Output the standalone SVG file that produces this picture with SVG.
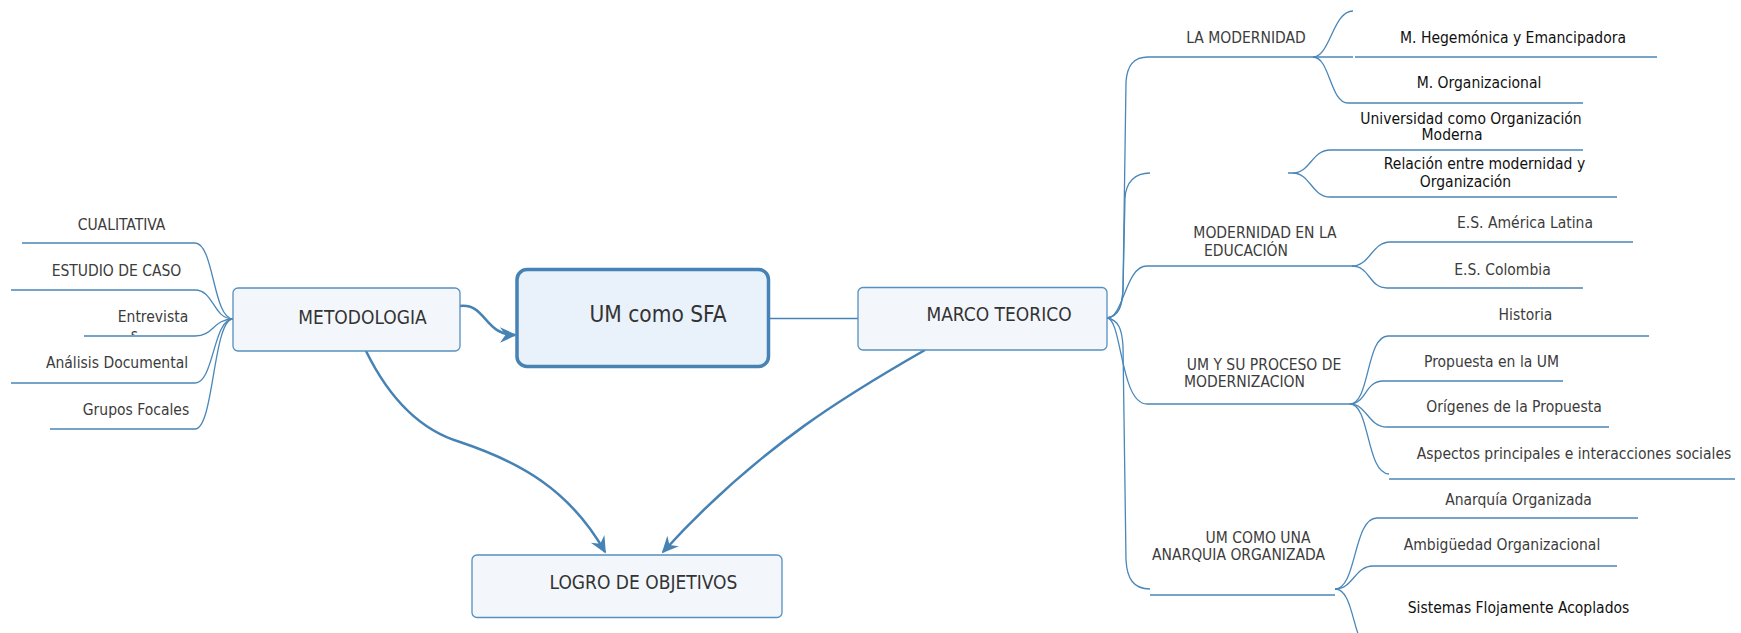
<svg xmlns="http://www.w3.org/2000/svg" width="1741" height="633" viewBox="0 0 1741 633">
<style>
text{font-family:"DejaVu Sans Condensed","DejaVu Sans",sans-serif;font-stretch:condensed;text-anchor:middle}
.main{font-size:19px;fill:#333}
.center{font-size:22.5px;fill:#333}
.ch{font-size:15.5px;fill:#3c3c3c}
.dk{font-size:15.5px;fill:#111}
.box{fill:#f3f7fc;stroke:#5590bf;stroke-width:1.3}
.cbox{fill:#e9f1fb;stroke:#4682b4;stroke-width:3.5}
.br{fill:none;stroke:#4a87b8;stroke-width:1.3}
.rel{fill:none;stroke:#4682b4;stroke-width:2.5}
</style>
<defs>
<marker id="arr" markerUnits="userSpaceOnUse" markerWidth="24" markerHeight="24" viewBox="-18 -10 20 20" refX="-1.5" refY="0" orient="auto">
<path d="M0,0 L-14,-6.5 L-9.5,0 L-14,6.5 Z" fill="#4682b4"/>
</marker>
<clipPath id="clipS"><rect x="100" y="320" width="100" height="15"/></clipPath>
</defs>

<g id="connectors">
<path class="rel" d="M460,306 C486,303 484,335 515,335" marker-end="url(#arr)"/>
<line x1="769" y1="318.5" x2="858" y2="318.5" stroke="#4682b4" stroke-width="1.6"/>
<path class="rel" d="M366,351 C390,400 420,430 460,442 C520,462 570,490 605,552" marker-end="url(#arr)"/>
<path class="rel" d="M925,350 C855,390 760,445 663,552" marker-end="url(#arr)"/>

<!-- left branches -->
<path class="br" d="M22,243 L195,243 C214,243 213,319 233,319"/>
<path class="br" d="M11,290 L195,290 C214,290 213,319 233,319"/>
<path class="br" d="M84,336 L195,336 C214,336 213,319 233,319"/>
<path class="br" d="M11,383 L195,383 C214,383 213,319 233,319"/>
<path class="br" d="M50,429 L195,429 C214,429 213,319 233,319"/>

<!-- right trunk -->
<path class="br" d="M1107,318 C1119,316 1122,306 1123,290 L1126,82 C1127,66 1133,57 1148,57 L1313,57"/>
<path class="br" d="M1107,318 C1119,316 1122,306 1123,290 L1125,198 C1126,182 1135,173 1150,173"/>
<path class="br" d="M1107,318 C1124,318 1125,266 1147,266 L1352,266"/>
<path class="br" d="M1107,318 C1122,318 1120,404 1147,404 L1350,404"/>
<path class="br" d="M1107,318 C1119,320 1122,330 1123,346 L1126,560 C1127,578 1133,589 1150,589"/>
<path class="br" d="M1150,595 L1335,595"/>

<!-- LA MODERNIDAD children -->
<path class="br" d="M1313,57 C1330,57 1333,11 1353,11"/>
<path class="br" d="M1313,57 L1353,57"/>
<path class="br" d="M1313,57 C1330,57 1330,103 1348,103 L1583,103"/>
<path class="br" d="M1355,57 L1657,57"/>

<!-- blank branch children -->
<path class="br" d="M1288,173 L1293,173 C1310,173 1312,150 1330,150 L1583,150"/>
<path class="br" d="M1293,173 C1310,173 1312,197 1330,197 L1617,197"/>

<!-- MODERNIDAD EN LA EDUCACION children -->
<path class="br" d="M1352,266 C1370,266 1372,242 1390,242 L1633,242"/>
<path class="br" d="M1352,266 C1370,266 1369,288 1387,288 L1583,288"/>

<!-- UM Y SU PROCESO children -->
<path class="br" d="M1350,404 C1370,404 1366,336 1388,336 L1649,336"/>
<path class="br" d="M1350,404 C1366,404 1365,381 1383,381 L1563,381"/>
<path class="br" d="M1350,404 C1367,404 1368,427 1387,427 L1609,427"/>
<path class="br" d="M1350,404 C1370,404 1366,473 1389,474"/>
<path class="br" d="M1389,479 L1735,479"/>

<!-- UM COMO UNA children -->
<path class="br" d="M1335,589 C1357,589 1353,518 1377,518 L1638,518"/>
<path class="br" d="M1335,589 C1353,589 1355,566 1373,566 L1617,566"/>
<path class="br" d="M1335,589 C1355,589 1352,645 1370,650"/>
</g>

<g id="node-um-sfa">
<rect class="cbox" x="517" y="269.5" width="251.5" height="97" rx="10"/>
<text class="center" x="658" y="322">UM como SFA</text>
</g>
<g id="node-metodologia">
<rect class="box" x="233" y="288" width="227" height="63" rx="5"/>
<text class="main" x="362.5" y="324">METODOLOGIA</text>
</g>
<g id="node-marco">
<rect class="box" x="858" y="287.5" width="249" height="62.5" rx="5"/>
<text class="main" x="999" y="321">MARCO TEORICO</text>
</g>
<g id="node-logro">
<rect class="box" x="472" y="555" width="310" height="62.5" rx="5"/>
<text class="main" x="643.5" y="589">LOGRO DE OBJETIVOS</text>
</g>

<g id="node-cualitativa"><text class="ch" x="121.5" y="230">CUALITATIVA</text></g>
<g id="node-estudio"><text class="ch" x="116.5" y="276">ESTUDIO DE CASO</text></g>
<g id="node-entrevistas"><text class="ch" x="153" y="322">Entrevista</text><text class="ch" x="134.5" y="340" clip-path="url(#clipS)">s</text></g>
<g id="node-analisis"><text class="ch" x="117" y="368">Análisis Documental</text></g>
<g id="node-grupos"><text class="ch" x="136" y="415">Grupos Focales</text></g>

<g id="node-la-modernidad"><text class="ch" x="1246" y="43">LA MODERNIDAD</text></g>
<g id="node-hegemonica"><text class="dk" x="1513" y="43">M. Hegemónica y Emancipadora</text></g>
<g id="node-m-org"><text class="dk" x="1479" y="88">M. Organizacional</text></g>
<g id="node-universidad"><text class="dk" x="1471" y="124">Universidad como Organización</text><text class="dk" x="1452" y="140">Moderna</text></g>
<g id="node-relacion"><text class="dk" x="1484.5" y="169">Relación entre modernidad y</text><text class="dk" x="1465.5" y="187">Organización</text></g>

<g id="node-mod-educacion"><text class="ch" x="1265" y="238">MODERNIDAD EN LA</text><text class="ch" x="1246" y="256">EDUCACIÓN</text></g>
<g id="node-es-al"><text class="ch" x="1525" y="228">E.S. América Latina</text></g>
<g id="node-es-col"><text class="ch" x="1502.5" y="275">E.S. Colombia</text></g>

<g id="node-um-proceso"><text class="ch" x="1264" y="370">UM Y SU PROCESO DE</text><text class="ch" x="1244.5" y="387">MODERNIZACION</text></g>
<g id="node-historia"><text class="ch" x="1525.5" y="320">Historia</text></g>
<g id="node-propuesta"><text class="ch" x="1491.5" y="367">Propuesta en la UM</text></g>
<g id="node-origenes"><text class="ch" x="1514" y="412">Orígenes de la Propuesta</text></g>
<g id="node-aspectos"><text class="ch" x="1574" y="459">Aspectos principales e interacciones sociales</text></g>

<g id="node-anarquia"><text class="ch" x="1258" y="543">UM COMO UNA</text><text class="ch" x="1238.5" y="560">ANARQUIA ORGANIZADA</text></g>
<g id="node-anarquia-org"><text class="ch" x="1518.5" y="505">Anarquía Organizada</text></g>
<g id="node-ambiguedad"><text class="ch" x="1502" y="550">Ambigüedad Organizacional</text></g>
<g id="node-sistemas"><text class="dk" x="1518.5" y="613">Sistemas Flojamente Acoplados</text></g>
</svg>
